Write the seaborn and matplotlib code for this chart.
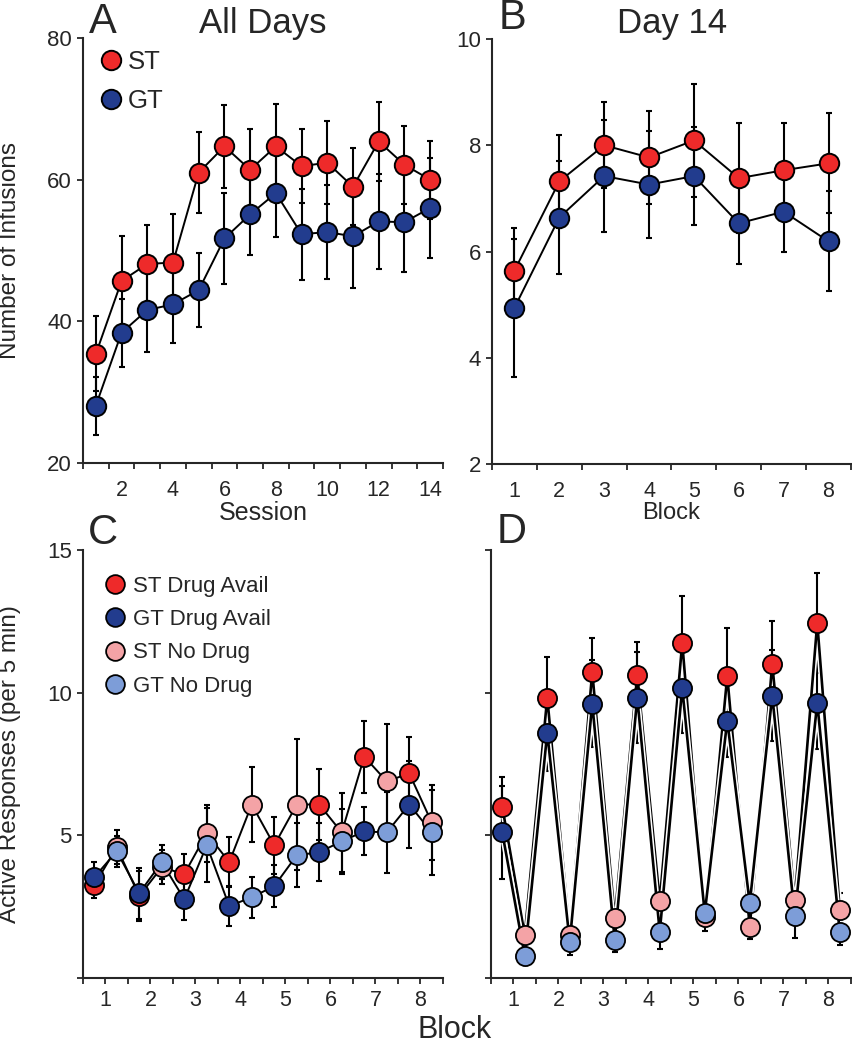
import numpy as np
import matplotlib
matplotlib.use("Agg")
import matplotlib.pyplot as plt
import matplotlib.patheffects as pe
from matplotlib.lines import Line2D
import seaborn as sns

# Panel A: infusions across sessions
sessions = np.arange(1, 15)
st_inf = [35.4, 45.7, 48.1, 48.3, 61.0, 64.7, 61.4, 64.7, 61.9, 62.4, 59.0, 65.4, 62.1, 60.0]
st_inf_sem = [5.3, 6.3, 5.5, 6.8, 5.7, 5.9, 5.7, 6.0, 5.2, 5.9, 5.4, 5.6, 5.5, 5.5]
gt_inf = [28.1, 38.4, 41.6, 42.4, 44.4, 51.7, 55.1, 58.1, 52.3, 52.6, 52.0, 54.1, 54.0, 56.0]
gt_inf_sem = [4.1, 4.8, 5.9, 5.4, 5.2, 6.4, 5.7, 6.2, 6.4, 6.6, 7.3, 6.7, 7.0, 7.0]

# Panel B: day 14 by block
blocks = np.arange(1, 9)
st_d14 = [5.64, 7.32, 8.00, 7.77, 8.09, 7.38, 7.53, 7.66]
st_d14_sem = [0.81, 0.87, 0.81, 0.87, 1.06, 1.04, 0.89, 0.94]
gt_d14 = [4.94, 6.64, 7.42, 7.26, 7.42, 6.53, 6.75, 6.19]
gt_d14_sem = [1.30, 1.07, 1.06, 1.01, 0.93, 0.76, 0.75, 0.94]

# Panel C: active responses, drug available vs no drug
st_avail_c = [3.25, 2.87, 3.64, 4.06, 4.65, 6.08, 7.76, 7.17]
st_avail_c_sem = [0.45, 0.87, 0.70, 0.87, 1.00, 1.26, 1.26, 1.26]
gt_avail_c = [3.53, 2.97, 2.76, 2.52, 3.22, 4.41, 5.14, 6.08]
gt_avail_c_sem = [0.55, 0.90, 0.73, 0.70, 0.74, 1.02, 0.84, 1.53]
st_nodrug_c = [4.58, 3.88, 5.07, 6.08, 6.08, 5.10, 6.89, 5.45]
st_nodrug_c_sem = [0.60, 0.60, 1.00, 1.33, 2.28, 1.37, 2.00, 1.30]
gt_nodrug_c = [4.44, 4.06, 4.65, 2.83, 4.30, 4.79, 5.10, 5.10]
gt_nodrug_c_sem = [0.55, 0.60, 1.30, 0.72, 1.12, 1.15, 1.43, 1.50]

# Panel D
st_avail_d = [6.01, 9.83, 10.73, 10.63, 11.75, 10.59, 11.01, 12.45]
st_avail_d_sem = [1.05, 1.43, 1.19, 1.15, 1.64, 1.68, 1.51, 1.75]
gt_avail_d = [5.10, 8.60, 9.62, 9.83, 10.17, 9.02, 9.90, 9.65]
gt_avail_d_sem = [1.64, 1.36, 1.54, 1.61, 1.57, 1.29, 1.61, 1.61]
st_nodrug_d = [1.50, 1.50, 2.10, 2.69, 2.13, 1.78, 2.73, 2.38]
st_nodrug_d_sem = [0.30, 0.30, 0.40, 0.84, 0.50, 0.40, 0.50, 0.60]
gt_nodrug_d = [0.77, 1.26, 1.33, 1.61, 2.27, 2.62, 2.17, 1.61]
gt_nodrug_d_sem = [0.30, 0.46, 0.43, 0.60, 0.40, 0.84, 0.77, 0.46]

RED = "#EE2A2A"
BLUE = "#223C8E"
PINK = "#F4A3A6"
LBLUE = "#7D9DD8"

sns.set_style("ticks")
plt.rcParams["font.family"] = ["Liberation Sans", "DejaVu Sans"]
plt.rcParams["axes.linewidth"] = 1.5

fig = plt.figure(figsize=(8.53, 10.5), dpi=100)
W, H = 853, 1050


def add_ax(left, top, right, bottom):
    return fig.add_axes([left / W, 1 - bottom / H, (right - left) / W, (bottom - top) / H])


axA = add_ax(83, 38, 443, 463)
axB = add_ax(492, 39, 851, 464)
axC = add_ax(83, 550, 443, 978)
axD = add_ax(491, 550, 851, 978)


def errbars(ax, x, y, e):
    ax.errorbar(x, y, yerr=e, fmt="none", ecolor="black", elinewidth=1.5,
                capsize=2, capthick=1.5, zorder=2)


def line_series(ax, x, y, e, color, ms=14):
    errbars(ax, x, y, e)
    sns.lineplot(x=x, y=y, ax=ax, color="black", lw=1.4, marker="o", markersize=ms,
                 markerfacecolor=color, markeredgecolor="black", markeredgewidth=1.4,
                 errorbar=None, zorder=3)


# A
line_series(axA, sessions, gt_inf, gt_inf_sem, BLUE)
line_series(axA, sessions, st_inf, st_inf_sem, RED)
axA.set_xlim(0.5, 14.5)
axA.set_ylim(20, 80)
axA.set_yticks([20, 40, 60, 80])
axA.set_xticks(np.arange(2, 15, 2))
axA.set_xticks(np.arange(0.5, 14.6, 1), minor=True)
axA.set_xlabel("Session", fontsize=18)
axA.set_ylabel("Number of Infusions", fontsize=17.5)
axA.yaxis.set_label_coords(-0.172, 0.5)
axA.xaxis.set_label_coords(0.5, -0.09)
legA = [Line2D([], [], ls="none", marker="o", markersize=14, markerfacecolor=c,
               markeredgecolor="black", markeredgewidth=1.4, label=l)
        for c, l in [(RED, "ST"), (BLUE, "GT")]]
axA.legend(handles=legA, loc="upper left", bbox_to_anchor=(0.004, 0.996), frameon=False,
           fontsize=18.5, handletextpad=0.0, labelspacing=0.6, handlelength=1.3,
           borderaxespad=0)

# B
line_series(axB, blocks, gt_d14, gt_d14_sem, BLUE)
line_series(axB, blocks, st_d14, st_d14_sem, RED)
axB.set_xlim(0.5, 8.5)
axB.set_ylim(2, 10)
axB.set_yticks([2, 4, 6, 8, 10])
axB.set_xticks(blocks)
axB.set_xticks(np.arange(0.5, 8.6, 1), minor=True)
axB.set_xlabel("Block", fontsize=17)
axB.set_ylabel("")
axB.xaxis.set_label_coords(0.5, -0.09)

for ax in (axA, axB):
    ax.tick_params(axis="x", which="major", length=0, pad=12, labelsize=15.5)
    ax.tick_params(axis="x", which="minor", length=4, width=1.3, direction="out")
    ax.tick_params(axis="y", length=4, width=1.3, labelsize=16, pad=4)


def panel_cd(ax, st_a, st_a_e, gt_a, gt_a_e, st_n, st_n_e, gt_n, gt_n_e, outline=False):
    xa = blocks - 0.25
    xn = blocks + 0.25
    for ya, ea, yn, en in [(st_a, st_a_e, st_n, st_n_e), (gt_a, gt_a_e, gt_n, gt_n_e)]:
        errbars(ax, xa, ya, ea)
        errbars(ax, xn, yn, en)
    for ya, yn in [(st_a, st_n), (gt_a, gt_n)]:
        xs = np.concatenate([xa, xn])
        ys = np.concatenate([ya, yn])
        kw = {}
        lw = 1.4
        if outline:
            lw = 1.9
            kw["path_effects"] = [pe.Stroke(linewidth=4.2, foreground="white"), pe.Normal()]
        sns.lineplot(x=xs, y=ys, ax=ax, color="black", lw=lw, errorbar=None,
                     zorder=3, **kw)
    for x, y, c in [(xa, st_a, RED), (xn, st_n, PINK), (xa, gt_a, BLUE), (xn, gt_n, LBLUE)]:
        sns.scatterplot(x=x, y=y, ax=ax, color=c, s=190, edgecolor="black",
                        linewidth=1.3, zorder=4)
    ax.set_xlim(0.5, 8.5)
    ax.set_ylim(0, 15)
    ax.set_yticks([0, 5, 10, 15])
    ax.set_xticks(blocks)
    ax.set_xticks(np.arange(0.5, 8.6, 1), minor=True)
    ax.tick_params(axis="x", which="both", length=4, width=1.3, direction="out")
    ax.tick_params(axis="x", which="major", labelsize=15.5, pad=5)
    ax.tick_params(axis="y", length=4, width=1.3, labelsize=16, pad=4)


panel_cd(axC, st_avail_c, st_avail_c_sem, gt_avail_c, gt_avail_c_sem,
         st_nodrug_c, st_nodrug_c_sem, gt_nodrug_c, gt_nodrug_c_sem)
axC.set_yticklabels(["", "5", "10", "15"])
axC.set_ylabel("Active Responses (per 5 min)", fontsize=17.5)
axC.yaxis.set_label_coords(-0.172, 0.5)
legC = [Line2D([], [], ls="none", marker="o", markersize=13.5, markerfacecolor=c,
               markeredgecolor="black", markeredgewidth=1.3, label=l)
        for c, l in [(RED, "ST Drug Avail"), (BLUE, "GT Drug Avail"),
                     (PINK, "ST No Drug"), (LBLUE, "GT No Drug")]]
axC.legend(handles=legC, loc="upper left", bbox_to_anchor=(0.025, 0.96), frameon=False,
           fontsize=16, handletextpad=0.15, labelspacing=0.55, handlelength=1.3,
           borderaxespad=0)

panel_cd(axD, st_avail_d, st_avail_d_sem, gt_avail_d, gt_avail_d_sem,
         st_nodrug_d, st_nodrug_d_sem, gt_nodrug_d, gt_nodrug_d_sem, outline=True)
axD.set_yticklabels([])

for ax in (axA, axB, axC, axD):
    sns.despine(ax=ax)
    ax.spines["left"].set_linewidth(1.5)
    ax.spines["bottom"].set_linewidth(1.5)

# panel letters and titles
fig.text(103 / W, 1 - 22 / H, "A", fontsize=30, ha="center", va="center")
fig.text(263 / W, 1 - 24 / H, "All Days", fontsize=25, ha="center", va="center")
fig.text(513 / W, 1 - 18 / H, "B", fontsize=30, ha="center", va="center")
fig.text(672 / W, 1 - 24 / H, "Day 14", fontsize=25, ha="center", va="center")
fig.text(103 / W, 1 - 533 / H, "C", fontsize=30, ha="center", va="center")
fig.text(512 / W, 1 - 532 / H, "D", fontsize=30, ha="center", va="center")
fig.text(455 / W, 1 - 1038 / H, "Block", fontsize=22, ha="center", va="baseline")

fig.savefig("out.png", dpi=100)
